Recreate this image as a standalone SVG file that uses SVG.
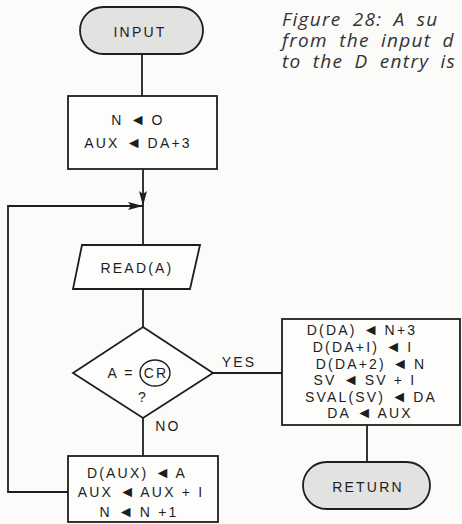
<svg xmlns="http://www.w3.org/2000/svg" width="462" height="524" viewBox="0 0 462 524">
<defs>
<style>
.ln{fill:none;stroke:#1e1e1e;stroke-width:1.8}
.box{fill:#fdfdfc;stroke:#1e1e1e;stroke-width:1.8}
.term{fill:#e2e2e0;stroke:#1e1e1e;stroke-width:1.8}
.t{font-family:"Liberation Sans",Arial,sans-serif;font-size:14px;fill:#1e1e1e;letter-spacing:2.2px;text-anchor:middle}
.a{font-size:16px;letter-spacing:0}
.cap{font-family:"Open Sans","DejaVu Sans",sans-serif;font-style:italic;font-size:19px;fill:#333;letter-spacing:1.3px;word-spacing:5px}
</style>
<marker id="ah" viewBox="0 0 15 8" refX="15" refY="4" markerWidth="15" markerHeight="8" markerUnits="userSpaceOnUse" orient="auto">
<path d="M0,0 L15,4 L0,8 L3,4 z" fill="#1e1e1e"/>
</marker>
</defs>
<rect width="462" height="524" fill="#fbfbfa"/>
<g id="caption">
<text class="cap" x="282" y="26">Figure 28: A su</text>
<text class="cap" x="282" y="47">from the input d</text>
<text class="cap" x="282" y="68">to the D entry is</text>
</g>
<g id="connectors">
<line class="ln" x1="142" y1="54" x2="142" y2="96"/>
<line class="ln" x1="143" y1="169" x2="143" y2="206" marker-end="url(#ah)"/>
<path class="ln" d="M68,492 H8 V206 H143" marker-end="url(#ah)"/>
<line class="ln" x1="143" y1="206" x2="143" y2="245"/>
<line class="ln" x1="143" y1="289" x2="143" y2="327"/>
<line class="ln" x1="143" y1="418" x2="143" y2="456"/>
<line class="ln" x1="213" y1="373" x2="282" y2="373"/>
<line class="ln" x1="367" y1="425" x2="367" y2="462"/>
<text class="t" x="239" y="367">YES</text>
<text class="t" x="168" y="431">NO</text>
</g>
<g id="input">
<rect class="term" x="80" y="7" width="123" height="47" rx="23.5"/>
<text class="t" x="140" y="37">INPUT</text>
</g>
<g id="init">
<rect class="box" x="68" y="96" width="149" height="73"/>
<text class="t" x="138" y="125">N <tspan class="a">◄</tspan> O</text>
<text class="t" x="138" y="148">AUX <tspan class="a">◄</tspan> DA+3</text>
</g>
<g id="read">
<polygon class="box" points="82,245 200,245 190,289 73,289"/>
<text class="t" x="137" y="273">READ(A)</text>
</g>
<g id="decision">
<polygon class="box" points="143,327 213,373 143,418 73,373"/>
<text class="t" x="121" y="378">A =</text>
<ellipse cx="155" cy="373" rx="15" ry="13" fill="none" stroke="#1e1e1e" stroke-width="1.4"/>
<text class="t" x="156" y="378">CR</text>
<text class="t" x="143" y="402">?</text>
</g>
<g id="store">
<rect class="box" x="68" y="456" width="150" height="66"/>
<text class="t" x="137" y="478">D(AUX) <tspan class="a">◄</tspan> A</text>
<text class="t" x="141" y="497">AUX <tspan class="a">◄</tspan> AUX + I</text>
<text class="t" x="139" y="517">N <tspan class="a">◄</tspan> N +1</text>
</g>
<g id="finish">
<rect class="box" x="282" y="319" width="178" height="106"/>
<text class="t" x="362" y="335">D(DA) <tspan class="a">◄</tspan> N+3</text>
<text class="t" x="363" y="352">D(DA+I) <tspan class="a">◄</tspan> I</text>
<text class="t" x="371" y="369">D(DA+2) <tspan class="a">◄</tspan> N</text>
<text class="t" x="365" y="385">SV <tspan class="a">◄</tspan> SV + I</text>
<text class="t" x="371" y="402">SVAL(SV) <tspan class="a">◄</tspan> DA</text>
<text class="t" x="370" y="418">DA <tspan class="a">◄</tspan> AUX</text>
</g>
<g id="return">
<rect class="term" x="303" y="462" width="127" height="47" rx="23.5"/>
<text class="t" x="368" y="492">RETURN</text>
</g>
</svg>
